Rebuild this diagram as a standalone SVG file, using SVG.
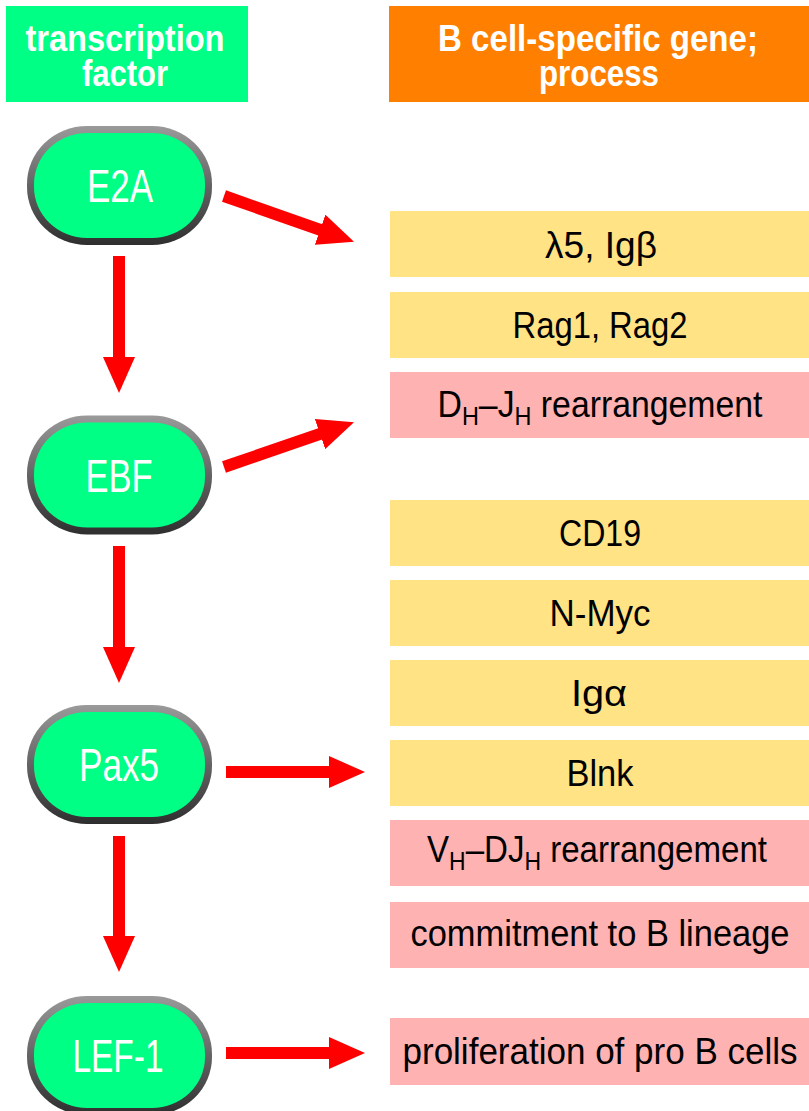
<svg xmlns="http://www.w3.org/2000/svg" width="809" height="1111" viewBox="0 0 809 1111">
  <style>
    .hdr { font-family: "Liberation Sans", Arial, sans-serif; font-weight: bold; font-size: 37px; fill: #ffffff; text-anchor: middle; }
    .tf-label { font-family: "Liberation Sans", Arial, sans-serif; font-size: 46px; fill: #ffffff; text-anchor: middle; }
    .gene { font-family: "Liberation Sans", Arial, sans-serif; font-size: 36px; fill: #000000; text-anchor: middle; }
    .sub { font-size: 25px; }
    .gene-box { fill: #FFE385; }
    .proc-box { fill: #FFB2B2; }
    .rim { fill: url(#rimShade); }
    .core { fill: #00FF85; }
    .link { stroke: #FF0000; stroke-width: 12; fill: none; marker-end: url(#head); }
  </style>
  <defs>
    <linearGradient id="rimShade" x1="0" y1="0" x2="0" y2="1">
      <stop offset="0" stop-color="#9a9a9a"/>
      <stop offset="1" stop-color="#2e2e2e"/>
    </linearGradient>
    <marker id="head" viewBox="0 -16 36 32" refX="1" refY="0" markerWidth="36" markerHeight="32" markerUnits="userSpaceOnUse" orient="auto">
      <path d="M0,-16 L36,0 L0,16 Z" fill="#FF0000"/>
    </marker>
  </defs>

  <rect width="809" height="1111" fill="#ffffff"/>

  <!-- column headers -->
  <g id="header-tf">
    <rect x="6" y="6" width="242" height="96" fill="#00FF85"/>
    <text class="hdr" x="125" y="51" textLength="199" lengthAdjust="spacingAndGlyphs">transcription</text>
    <text class="hdr" x="125" y="86" textLength="86" lengthAdjust="spacingAndGlyphs">factor</text>
  </g>
  <g id="header-gene">
    <rect x="389" y="6" width="420" height="96" fill="#FF8000"/>
    <text class="hdr" x="598" y="51" textLength="320" lengthAdjust="spacingAndGlyphs">B cell-specific gene;</text>
    <text class="hdr" x="599" y="86" textLength="120" lengthAdjust="spacingAndGlyphs">process</text>
  </g>

  <!-- transcription factors -->
  <g id="tf-E2A">
    <rect class="rim" x="27" y="126" width="185" height="119" rx="60" ry="58"/>
    <rect class="core" x="34" y="133" width="171" height="105" rx="53" ry="51"/>
    <text class="tf-label" x="120" y="202" textLength="66" lengthAdjust="spacingAndGlyphs">E2A</text>
  </g>
  <g id="tf-EBF">
    <rect class="rim" x="27" y="415.5" width="185" height="119" rx="60" ry="58"/>
    <rect class="core" x="34" y="422.5" width="171" height="105" rx="53" ry="51"/>
    <text class="tf-label" x="119" y="492" textLength="67" lengthAdjust="spacingAndGlyphs">EBF</text>
  </g>
  <g id="tf-Pax5">
    <rect class="rim" x="27" y="705" width="185" height="119" rx="60" ry="58"/>
    <rect class="core" x="34" y="712" width="171" height="105" rx="53" ry="51"/>
    <text class="tf-label" x="119" y="781" textLength="80" lengthAdjust="spacingAndGlyphs">Pax5</text>
  </g>
  <g id="tf-LEF1">
    <rect class="rim" x="27" y="996" width="185" height="119" rx="60" ry="58"/>
    <rect class="core" x="34" y="1003" width="171" height="105" rx="53" ry="51"/>
    <text class="tf-label" x="118" y="1072" textLength="91" lengthAdjust="spacingAndGlyphs">LEF-1</text>
  </g>

  <!-- target genes and processes -->
  <g id="gene-l5-Igb">
    <rect class="gene-box" x="390" y="211" width="419" height="66"/>
    <text class="gene" x="601" y="258" textLength="112" lengthAdjust="spacingAndGlyphs">λ5, Igβ</text>
  </g>
  <g id="gene-Rag">
    <rect class="gene-box" x="390" y="292" width="419" height="66"/>
    <text class="gene" x="600" y="338" textLength="175" lengthAdjust="spacingAndGlyphs">Rag1, Rag2</text>
  </g>
  <g id="proc-DJ">
    <rect class="proc-box" x="390" y="372" width="419" height="66"/>
    <text class="gene" x="600" y="417" textLength="325" lengthAdjust="spacingAndGlyphs">D<tspan class="sub" dy="8">H</tspan><tspan dy="-8">–J</tspan><tspan class="sub" dy="8">H</tspan><tspan dy="-8"> rearrangement</tspan></text>
  </g>
  <g id="gene-CD19">
    <rect class="gene-box" x="390" y="500" width="419" height="66"/>
    <text class="gene" x="600" y="546" textLength="82" lengthAdjust="spacingAndGlyphs">CD19</text>
  </g>
  <g id="gene-NMyc">
    <rect class="gene-box" x="390" y="580" width="419" height="66"/>
    <text class="gene" x="600" y="626" textLength="101" lengthAdjust="spacingAndGlyphs">N-Myc</text>
  </g>
  <g id="gene-Iga">
    <rect class="gene-box" x="390" y="660" width="419" height="66"/>
    <text class="gene" x="599" y="706" textLength="56" lengthAdjust="spacingAndGlyphs">Igα</text>
  </g>
  <g id="gene-Blnk">
    <rect class="gene-box" x="390" y="740" width="419" height="66"/>
    <text class="gene" x="600" y="786" textLength="67" lengthAdjust="spacingAndGlyphs">Blnk</text>
  </g>
  <g id="proc-VDJ">
    <rect class="proc-box" x="390" y="820" width="419" height="66"/>
    <text class="gene" x="597" y="862" textLength="340" lengthAdjust="spacingAndGlyphs">V<tspan class="sub" dy="8">H</tspan><tspan dy="-8">–DJ</tspan><tspan class="sub" dy="8">H</tspan><tspan dy="-8"> rearrangement</tspan></text>
  </g>
  <g id="proc-commitment">
    <rect class="proc-box" x="390" y="902" width="419" height="66"/>
    <text class="gene" x="600" y="946" textLength="379" lengthAdjust="spacingAndGlyphs">commitment to B lineage</text>
  </g>
  <g id="proc-proliferation">
    <rect class="proc-box" x="390" y="1018" width="419" height="67"/>
    <text class="gene" x="600" y="1064" textLength="395" lengthAdjust="spacingAndGlyphs">proliferation of pro B cells</text>
  </g>

  <!-- connectors -->
  <g id="connectors">
    <line class="link" x1="119" y1="256" x2="119" y2="358"/>
    <line class="link" x1="119" y1="546" x2="119" y2="648"/>
    <line class="link" x1="119" y1="836" x2="119" y2="937"/>
    <line class="link" x1="224" y1="196" x2="321" y2="230.1"/>
    <line class="link" x1="224" y1="467" x2="320.9" y2="433.7"/>
    <line class="link" x1="226" y1="772" x2="330" y2="772"/>
    <line class="link" x1="226" y1="1053" x2="330" y2="1053"/>
  </g>
</svg>
